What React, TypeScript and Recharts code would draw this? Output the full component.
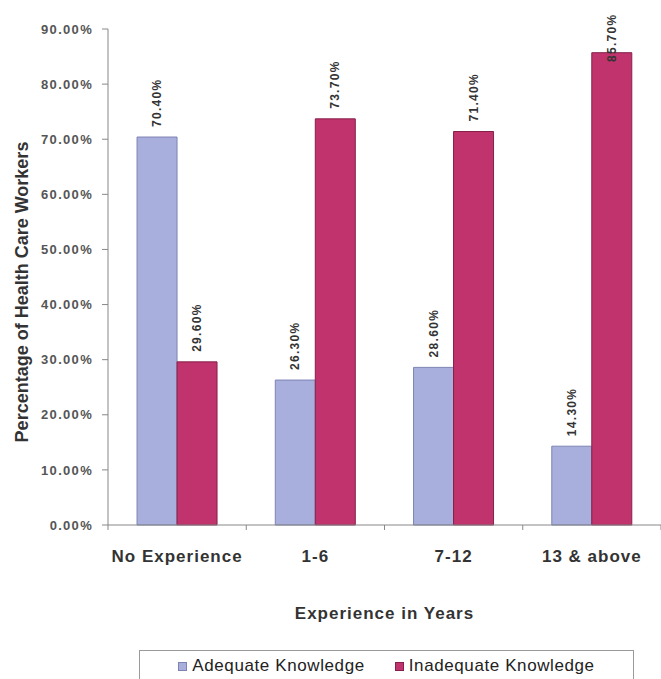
import React from 'react';
import { BarChart, Bar, XAxis, YAxis, Legend, LabelList, Label } from 'recharts';

const categories = ['No Experience', '1-6', '7-12', '13 & above'];
const adequate = [70.4, 26.3, 28.6, 14.3];
const inadequate = [29.6, 73.7, 71.4, 85.7];
const yTicks = [0, 10, 20, 30, 40, 50, 60, 70, 80, 90];

const data = categories.map((name, i) => ({
  name,
  adequate: adequate[i],
  inadequate: inadequate[i],
}));

const W = 661;
const H = 679;
const margin = { top: 29, right: 0, left: 0, bottom: 0 };
const yAxisWidth = 108;
const halfBand = (W - margin.left - margin.right - yAxisWidth) / categories.length / 2;

const BLUE = '#a8afdc';
const BLUE_EDGE = '#7d84b4';
const RED = '#c0336c';
const RED_EDGE = '#86204a';
const FONT = '"Liberation Sans", Arial, sans-serif';

const XTick = (props: any) => {
  const { x, y, payload, index } = props;
  return (
    <g>
      <line x1={x + halfBand} y1={y} x2={x + halfBand} y2={y + 5} stroke="#888" />
      {index === 0 && <line x1={x - halfBand} y1={y} x2={x - halfBand} y2={y + 5} stroke="#888" />}
      <text x={x} y={y + 37} textAnchor="middle" fill="#333" fontSize={17} fontWeight="bold" letterSpacing={1}>
        {payload.value}
      </text>
    </g>
  );
};

const ValueLabel = (props: any) => {
  const { x, y, width, value } = props;
  const cx = x + width / 2;
  const by = Math.max(y - 10, 62);
  return (
    <text
      x={cx}
      y={by}
      transform={`rotate(-90 ${cx} ${by})`}
      textAnchor="start"
      dominantBaseline="central"
      fill="#333"
      fontSize={12}
      fontWeight="bold"
      letterSpacing={1.3}
    >
      {value.toFixed(2) + '%'}
    </text>
  );
};

const LegendBox = () => (
  <div
    style={{
      border: '1px solid #9a9a9a',
      height: 44,
      boxSizing: 'border-box',
      display: 'flex',
      justifyContent: 'center',
      alignItems: 'flex-start',
      paddingTop: 5,
      gap: 30,
      fontFamily: FONT,
      fontSize: 17,
      color: '#222',
      letterSpacing: 0.6,
      background: '#fff',
    }}
  >
    {[
      { label: 'Adequate Knowledge', fill: BLUE, edge: BLUE_EDGE },
      { label: 'Inadequate Knowledge', fill: RED, edge: RED_EDGE },
    ].map((it) => (
      <span key={it.label} style={{ display: 'flex', alignItems: 'center', lineHeight: '20px' }}>
        <span
          style={{
            display: 'inline-block',
            width: 7,
            height: 7,
            background: it.fill,
            border: `1px solid ${it.edge}`,
            marginRight: 5,
          }}
        />
        {it.label}
      </span>
    ))}
  </div>
);

export default function App() {
  return (
    <div style={{ position: 'absolute', left: 0, top: 0, width: W, height: H, background: '#fff', fontFamily: FONT, overflow: 'hidden' }}>
      <BarChart width={W} height={H} data={data} margin={margin} barCategoryGap="21%" barGap={0}>
        <XAxis
          dataKey="name"
          height={H - 525}
          axisLine={{ stroke: '#888' }}
          tickLine={false}
          tickSize={0}
          tickMargin={0}
          tick={<XTick />}
          interval={0}
        >
          <Label
            content={(p: any) => {
              const vb = p.viewBox;
              return (
                <text x={vb.x + vb.width / 2} y={619} textAnchor="middle" fill="#333" fontSize={17} fontWeight="bold" letterSpacing={1}>
                  Experience in Years
                </text>
              );
            }}
          />
        </XAxis>
        <YAxis
          width={yAxisWidth}
          domain={[0, 90]}
          ticks={yTicks}
          interval={0}
          axisLine={{ stroke: '#888' }}
          tickLine={{ stroke: '#888' }}
          tickSize={6}
          tickMargin={9}
          tickFormatter={(v: number) => v.toFixed(2) + '%'}
          tick={{ fill: '#555', fontSize: 13, fontWeight: 'bold', letterSpacing: 1.3 }}
        >
          <Label
            content={() => (
              <text
                x={22}
                y={292}
                transform="rotate(-90 22 292)"
                textAnchor="middle"
                dominantBaseline="central"
                fill="#333"
                fontSize={18}
                fontWeight="bold"
              >
                Percentage of Health Care Workers
              </text>
            )}
          />
        </YAxis>
        <Legend
          layout="horizontal"
          verticalAlign="middle"
          align="center"
          wrapperStyle={{ top: 650, left: 139, width: 495, height: 44 }}
          content={<LegendBox />}
        />
        <Bar dataKey="adequate" name="Adequate Knowledge" fill={BLUE} stroke={BLUE_EDGE} strokeWidth={1} isAnimationActive={false}>
          <LabelList dataKey="adequate" content={<ValueLabel />} />
        </Bar>
        <Bar dataKey="inadequate" name="Inadequate Knowledge" fill={RED} stroke={RED_EDGE} strokeWidth={1} isAnimationActive={false}>
          <LabelList dataKey="inadequate" content={<ValueLabel />} />
        </Bar>
      </BarChart>
    </div>
  );
}
